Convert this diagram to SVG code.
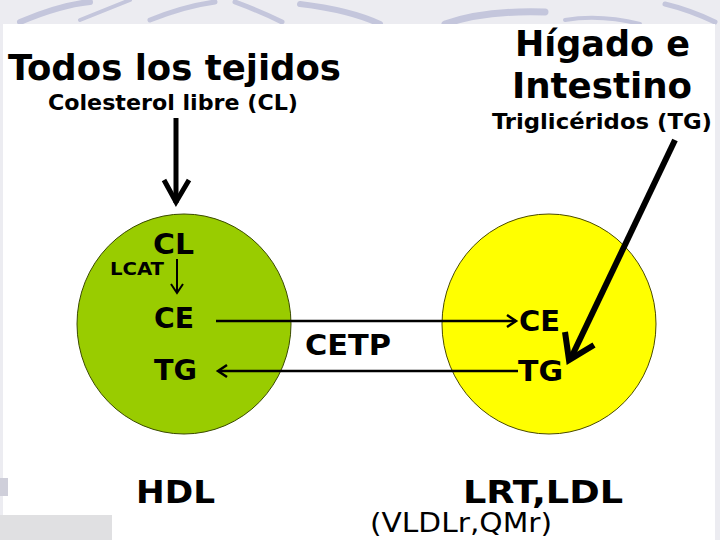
<svg xmlns="http://www.w3.org/2000/svg" width="720" height="540" viewBox="0 0 720 540">
<defs>
<style>
.t{font-family:"DejaVu Sans Condensed","DejaVu Sans",sans-serif;font-weight:bold;fill:#000}
.n{font-family:"DejaVu Sans Condensed","DejaVu Sans",sans-serif;fill:#000}
.ln{stroke:#000;fill:none;stroke-linecap:butt}
.sw{fill:none;stroke:#c4c6dc;stroke-linecap:round}
</style>
</defs>
<g id="background">
<rect x="0" y="0" width="720" height="540" fill="#ececf1"/>
<path class="sw" stroke-width="6" d="M20,22 Q60,5 90,2"/>
<path class="sw" stroke-width="4" d="M80,20 Q110,8 130,0"/>
<path class="sw" stroke-width="5" d="M150,20 Q185,6 215,2"/>
<path class="sw" stroke-width="5" d="M235,2 Q262,12 282,22"/>
<path class="sw" stroke-width="6" d="M300,4 Q350,10 380,24"/>
<path class="sw" stroke-width="7" d="M445,24 Q485,10 545,12"/>
<path class="sw" stroke-width="4" d="M565,20 Q600,14 640,24"/>
<path class="sw" stroke-width="5" d="M665,4 Q690,10 715,22"/>
<rect x="3" y="24" width="712" height="516" fill="#ffffff"/>
<rect x="0" y="515" width="112" height="25" fill="#e0e0e2"/>
<rect x="0" y="478" width="8" height="18" fill="#cfcfda"/>
</g>
<g id="hdl">
<ellipse cx="184" cy="324" rx="107" ry="110" fill="#99cc00" stroke="#3a4a00" stroke-width="1"/>
<text class="t" x="153" y="254" font-size="28" textLength="41" lengthAdjust="spacingAndGlyphs">CL</text>
<text class="t" x="110" y="275" font-size="18" textLength="54" lengthAdjust="spacingAndGlyphs">LCAT</text>
<text class="t" x="154" y="328" font-size="28" textLength="40" lengthAdjust="spacingAndGlyphs">CE</text>
<text class="t" x="154" y="380" font-size="28" textLength="43" lengthAdjust="spacingAndGlyphs">TG</text>
<text class="t" x="136" y="503" font-size="32" textLength="79" lengthAdjust="spacingAndGlyphs">HDL</text>
</g>
<g id="lrt">
<ellipse cx="549" cy="324" rx="107" ry="110" fill="#ffff00" stroke="#4a4a00" stroke-width="1"/>
<text class="t" x="519" y="331" font-size="28" textLength="41" lengthAdjust="spacingAndGlyphs">CE</text>
<text class="t" x="518" y="381" font-size="28" textLength="45" lengthAdjust="spacingAndGlyphs">TG</text>
<text class="t" x="463" y="503" font-size="32" textLength="160" lengthAdjust="spacingAndGlyphs">LRT,LDL</text>
<text class="n" x="370" y="532" font-size="26" textLength="182" lengthAdjust="spacingAndGlyphs">(VLDLr,QMr)</text>
</g>
<g id="tejidos">
<text class="t" x="8" y="80" font-size="35" textLength="333" lengthAdjust="spacingAndGlyphs">Todos los tejidos</text>
<text class="t" x="48" y="110" font-size="21" textLength="250" lengthAdjust="spacingAndGlyphs">Colesterol libre (CL)</text>
</g>
<g id="higado">
<text class="t" x="515" y="56" font-size="35" textLength="175" lengthAdjust="spacingAndGlyphs">Hígado e</text>
<text class="t" x="512" y="98" font-size="35" textLength="180" lengthAdjust="spacingAndGlyphs">Intestino</text>
<text class="t" x="492" y="129" font-size="21" textLength="220" lengthAdjust="spacingAndGlyphs">Triglicéridos (TG)</text>
</g>
<g id="cetp">
<text class="t" x="305" y="355" font-size="29" textLength="86" lengthAdjust="spacingAndGlyphs">CETP</text>
</g>
<g id="connectors">
<line class="ln" x1="176" y1="118" x2="176" y2="203" stroke-width="5"/>
<path d="M164,180 L176,202 L189,180" fill="none" stroke="#000" stroke-width="5" stroke-linejoin="miter"/>
<line class="ln" x1="177" y1="259" x2="177" y2="293" stroke-width="2"/>
<path d="M171,284 L177,293 L183,284" fill="none" stroke="#000" stroke-width="2"/>
<line class="ln" x1="216" y1="321" x2="516" y2="321" stroke-width="2.5"/>
<path d="M507,315 L516,321 L507,327" fill="none" stroke="#000" stroke-width="2.5"/>
<line class="ln" x1="219" y1="371" x2="518" y2="371" stroke-width="2.5"/>
<path d="M227,365 L218,371 L227,377" fill="none" stroke="#000" stroke-width="2.5"/>
<line class="ln" x1="675" y1="140" x2="571" y2="358" stroke-width="6"/>
<path d="M565,332 L569,360 L594,345" fill="none" stroke="#000" stroke-width="6"/>
</g>
</svg>
